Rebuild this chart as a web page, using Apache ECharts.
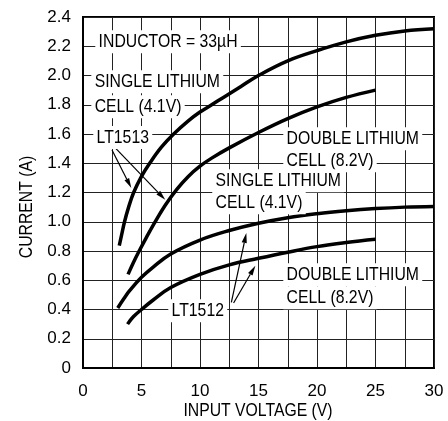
<!DOCTYPE html>
<html><head><meta charset="utf-8">
<script src="https://cdn.jsdelivr.net/npm/echarts@6/dist/echarts.min.js"></script>
<style>html,body{margin:0;padding:0;background:#fff}#c{width:448px;height:421px}</style>
</head><body><div id="c"></div>
<script>
// ---- data ----
const xTickLabels = ['0','5','10','15','20','25','30'];
const yTickLabels = ['0','0.2','0.4','0.6','0.8','1.0','1.2','1.4','1.6','1.8','2.0','2.2','2.4'];
const xTitle = 'INPUT VOLTAGE (V)';
const yTitle = 'CURRENT (A)';

// LT1513, single lithium cell (4.1V)
const lt1513Single = [[3.1,0.836],[3.3,0.91],[3.55,1.0],[3.9,1.1],[4.33,1.2],[5,1.31],[5.7,1.4],[6.7,1.51],[7.75,1.6],[9,1.69],[10,1.75],[11,1.80],[12,1.85],[13.5,1.925],[15,2.0],[17.5,2.10],[20,2.17],[22.5,2.23],[25,2.275],[27.5,2.305],[30,2.32]];
// LT1513, double lithium cell (8.2V)
const lt1513Double = [[3.85,0.64],[4.3,0.72],[4.8,0.80],[5.4,0.89],[6.1,0.99],[7,1.11],[8,1.22],[9,1.31],[10,1.38],[11,1.435],[12.5,1.505],[15,1.61],[17.5,1.705],[20,1.785],[22.5,1.85],[25,1.90]];
// LT1512, single lithium cell (4.1V)
const lt1512Single = [[2.97,0.41],[3.5,0.475],[4,0.53],[5,0.62],[6,0.69],[7.5,0.78],[10,0.875],[12.5,0.94],[15,0.99],[17.5,1.028],[20,1.055],[22.5,1.075],[25,1.09],[27.5,1.10],[30,1.105]];
// LT1512, double lithium cell (8.2V)
const lt1512Double = [[3.81,0.30],[4.3,0.35],[5,0.40],[6,0.465],[7.5,0.55],[10,0.64],[12.5,0.705],[15,0.75],[17.5,0.792],[20,0.83],[22.5,0.858],[25,0.88]];

// annotation texts and their anchors (data units: V, A)
const labelTexts = ['INDUCTOR = 33µH','SINGLE LITHIUM','CELL (4.1V)','LT1513','DOUBLE LITHIUM','CELL (8.2V)','SINGLE LITHIUM','CELL (4.1V)','LT1512','DOUBLE LITHIUM','CELL (8.2V)'];
const labelAnchors = [[1.05,2.244],[0.71,1.971],[0.71,1.80],[0.88,1.59],[17.12,1.581],[17.12,1.43],[11.05,1.294],[11.05,1.144],[7.29,0.405],[17.12,0.651],[17.12,0.494]];
// arrows: [fromV, fromA, toV, toA]
const arrowSegments = [[2.48,1.49,4.13,1.23],[2.82,1.50,7.03,1.15],[12.68,0.448,13.96,0.923],[12.87,0.444,14.73,0.70]];

// ---- chart ----
const FONT_FAMILY = '"Liberation Sans",Arial,sans-serif';
const FONT = '19px ' + FONT_FAMILY;
const NARROW = 0.83;   // condensed look of the original typeface
const TEXT_DY = 2;
const chart = echarts.init(document.getElementById('c'), null, {renderer:'canvas'});

function curve(data){
  return {type:'line', data:data, showSymbol:false, smooth:0.4, silent:true, z:3,
    lineStyle:{color:'#000', width:3.5}};
}

chart.setOption({
  animation:false,
  backgroundColor:'#fff',
  grid:{left:83, right:14, top:17, bottom:53, show:true, borderColor:'#000', borderWidth:2},
  xAxis:{type:'value', min:0, max:30, interval:2.5,
    axisLine:{show:true, lineStyle:{color:'#000', width:2}},
    axisTick:{show:false},
    axisLabel:{color:'#000', fontFamily:FONT_FAMILY, fontSize:17, margin:15,
      formatter:v => xTickLabels.includes(String(v)) ? String(v) : ''},
    splitLine:{show:true, lineStyle:{color:'#222', width:1}}},
  yAxis:{type:'value', min:0, max:2.4, interval:0.2,
    axisLine:{show:true, lineStyle:{color:'#000', width:2}},
    axisTick:{show:false},
    axisLabel:{color:'#000', fontFamily:FONT_FAMILY, fontSize:17, margin:12,
      formatter:(v,i) => yTickLabels[i]},
    splitLine:{show:true, lineStyle:{color:'#222', width:1}}},
  graphic:[
    {type:'text', x:27, y:207, rotation:Math.PI/2, scaleX:NARROW,
      style:{text:yTitle, font:FONT, fill:'#000', textAlign:'center', textVerticalAlign:'middle', align:'center', verticalAlign:'middle'}},
    {type:'text', x:258, y:411, scaleX:NARROW,
      style:{text:xTitle, font:FONT, fill:'#000', textAlign:'center', textVerticalAlign:'middle', align:'center', verticalAlign:'middle'}}
  ],
  series:[
    curve(lt1513Single), curve(lt1513Double), curve(lt1512Single), curve(lt1512Double),
    {type:'custom', coordinateSystem:'cartesian2d', silent:true, z:5,
      data:arrowSegments, encode:{x:[0,2], y:[1,3]},
      renderItem:(params, api) => {
        const a = api.coord([api.value(0), api.value(1)]);
        const b = api.coord([api.value(2), api.value(3)]);
        const dx = b[0]-a[0], dy = b[1]-a[1];
        const L = Math.hypot(dx, dy); const ux = dx/L, uy = dy/L;
        const hl = 10, hw = 2.6;
        const base = [b[0]-ux*hl, b[1]-uy*hl];
        return {type:'group', children:[
          {type:'line', shape:{x1:a[0], y1:a[1], x2:base[0], y2:base[1]}, style:{stroke:'#000', lineWidth:1.2}},
          {type:'polygon', shape:{points:[b,[base[0]-uy*hw, base[1]+ux*hw],[base[0]+uy*hw, base[1]-ux*hw]]}, style:{fill:'#000'}}
        ]};
      }},
    {type:'custom', coordinateSystem:'cartesian2d', silent:true, z:6,
      data:labelAnchors.map((p,i) => [p[0], p[1], i]), encode:{x:0, y:1},
      renderItem:(params, api) => {
        const p = api.coord([api.value(0), api.value(1)]);
        return {type:'text', x:p[0], y:p[1] + TEXT_DY, scaleX:NARROW,
          style:{text:labelTexts[api.value(2)], font:FONT, fill:'#000', align:'left', verticalAlign:'middle',
            backgroundColor:'#fff', padding:[2,4]}};
      }}
  ]
});
</script></body></html>
